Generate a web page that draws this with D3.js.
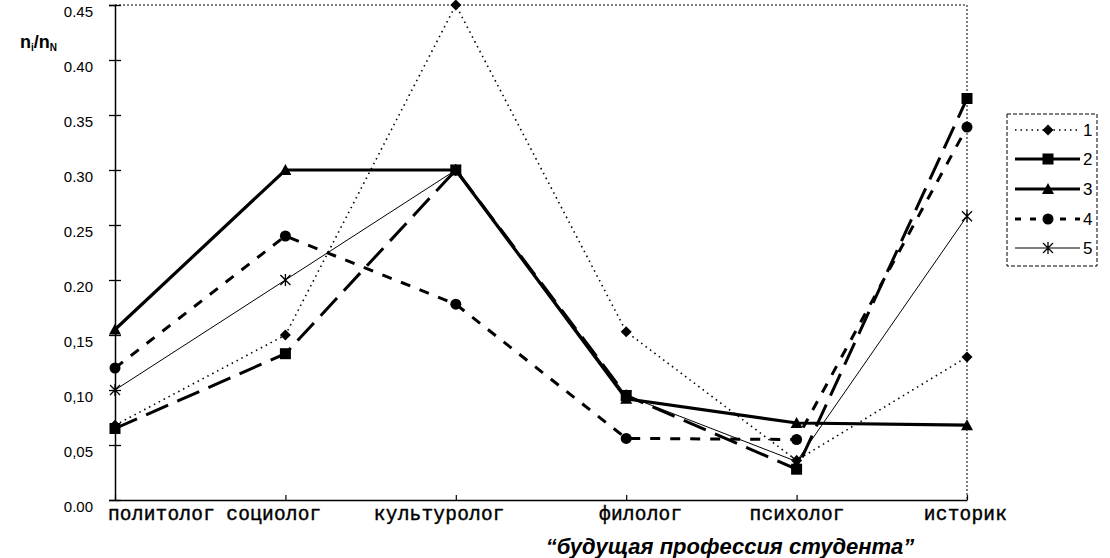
<!DOCTYPE html>
<html><head><meta charset="utf-8">
<script src="https://cdn.jsdelivr.net/npm/d3@7"></script>
<style>body{margin:0;background:#fff}svg{display:block}</style>
</head><body><svg id="c" width="1110" height="558"></svg>
<script>
const categories = ["политолог","социолог","культуролог","филолог","психолог","историк"];
const series1 = [0.068, 0.150, 0.450, 0.153, 0.036, 0.130];
const series2 = [0.065, 0.133, 0.300, 0.095, 0.028, 0.365];
const series3 = [0.155, 0.300, 0.300, 0.092, 0.070, 0.068];
const series4 = [0.120, 0.240, 0.178, 0.056, 0.055, 0.339];
const series5 = [0.100, 0.200, 0.300, 0.095, 0.035, 0.258];
const seriesNames = ["1","2","3","4","5"];
const yTicks = [0, 0.05, 0.10, 0.15, 0.20, 0.25, 0.30, 0.35, 0.40, 0.45];
const yTickLabels = ["0.00","0,05","0,10","0,15","0.20","0.25","0.30","0.35","0.40","0.45"];
const xTitle = "“будущая професcия студента”";

const svg = d3.select("#c");
const x = d3.scalePoint().domain(categories).range([115, 967]);
const y = d3.scaleLinear().domain([0, 0.45]).range([500, 5]);

const styles = [
  {w:1.6, dash:"1.5,4", marker:"diamond"},
  {w:3, dash:"24,10", marker:"square"},
  {w:3.2, dash:null, marker:"triangle"},
  {w:3, dash:"10,10", marker:"circle"},
  {w:1, dash:null, marker:"star"}
];
const allSeries = [series1, series2, series3, series4, series5];
const labelShift = [46, -12, -17, 14, 0, -2];

// frame: dotted top and right
svg.append("line").attr("x1",115).attr("x2",967).attr("y1",y(0.45)).attr("y2",y(0.45))
  .attr("stroke","#000").attr("stroke-width",1).attr("stroke-dasharray","2,2");
svg.append("line").attr("x1",967).attr("x2",967).attr("y1",y(0.45)).attr("y2",y(0))
  .attr("stroke","#000").attr("stroke-width",1).attr("stroke-dasharray","2,2");

// y axis
const yAxis = d3.axisLeft(y).tickValues(yTicks).tickSize(6).tickFormat((d,i)=>yTickLabels[i]).tickPadding(16);
const gy = svg.append("g").attr("transform","translate(115,0)").call(yAxis);
gy.select(".domain").attr("stroke-width",1.5);
gy.selectAll(".tick line").attr("x1",-6).attr("x2",6).attr("stroke-width",1.3);
gy.selectAll("text").attr("font-family","Liberation Sans, Arial, sans-serif").attr("font-size",15)
  .attr("fill","#000").attr("dy","0.75em");

// x axis
const xAxis = d3.axisBottom(x).tickSize(0).tickPadding(10);
const gx = svg.append("g").attr("transform","translate(0,500)").call(xAxis);
gx.select(".domain").attr("stroke-width",1.6);
gx.selectAll(".tick").append("line").attr("y1",-5).attr("y2",0).attr("stroke","#000").attr("stroke-width",1.2);
gx.selectAll("text").attr("font-family","Liberation Mono, Courier New, monospace").attr("font-size",19.5)
  .attr("fill","#000").attr("dy","0.5em").attr("font-weight","normal").attr("letter-spacing","0.2px")
  .attr("stroke","#000").attr("stroke-width",0.4)
  .attr("text-anchor","middle").attr("dx",(d,i)=>labelShift[i]);

// lines
const line = d3.line().x((d,i)=>x(categories[i])).y(d=>y(d));
allSeries.forEach((s,k)=>{
  const st = styles[k];
  svg.append("path").datum(s).attr("d",line).attr("fill","none").attr("stroke","#000")
    .attr("stroke-width",st.w).attr("stroke-dasharray",st.dash);
});

function drawMarker(g, type, cx, cy){
  if(type==="diamond") g.append("path").attr("d",`M${cx},${cy-5.5}L${cx+5.5},${cy}L${cx},${cy+5.5}L${cx-5.5},${cy}Z`).attr("fill","#000");
  if(type==="square") g.append("rect").attr("x",cx-5.5).attr("y",cy-5.5).attr("width",11).attr("height",11).attr("fill","#000");
  if(type==="triangle") g.append("path").attr("d",`M${cx},${cy-6}L${cx+6},${cy+5}L${cx-6},${cy+5}Z`).attr("fill","#000");
  if(type==="circle") g.append("circle").attr("cx",cx).attr("cy",cy).attr("r",5.5).attr("fill","#000");
  if(type==="star") g.append("path").attr("d",`M${cx-5},${cy-5}L${cx+5},${cy+5}M${cx-5},${cy+5}L${cx+5},${cy-5}M${cx},${cy-6}L${cx},${cy+6}`).attr("stroke","#000").attr("stroke-width",1.3);
}
allSeries.forEach((s,k)=>{
  const g = svg.append("g");
  s.forEach((v,i)=>drawMarker(g, styles[k].marker, x(categories[i]), y(v)));
});

// legend
const lg = svg.append("g");
lg.append("rect").attr("x",1007).attr("y",114).attr("width",90).attr("height",152)
  .attr("fill","none").attr("stroke","#000").attr("stroke-width",1).attr("stroke-dasharray","4,2");
const ly = [130,159,189,219,248];
seriesNames.forEach((n,k)=>{
  const st = styles[k];
  lg.append("line").attr("x1",1015).attr("x2",1080).attr("y1",ly[k]).attr("y2",ly[k]).attr("stroke","#000")
    .attr("stroke-width",st.w).attr("stroke-dasharray", k===1 ? "30,6" : (k===3 ? "6,9" : st.dash));
  drawMarker(lg, st.marker, 1048, ly[k]);
  lg.append("text").attr("x",1083).attr("y",ly[k]+6).text(n)
    .attr("font-family","Liberation Sans, Arial, sans-serif").attr("font-size",17).attr("fill","#000");
});

// y label
const yl = svg.append("text").attr("x",20).attr("y",48).attr("font-family","Liberation Sans, Arial, sans-serif")
  .attr("font-weight","bold").attr("font-size",18).attr("fill","#000");
yl.append("tspan").text("n");
yl.append("tspan").text("i").attr("font-size",10).attr("dy",3);
yl.append("tspan").text("/n").attr("dy",-3);
yl.append("tspan").text("N").attr("font-size",10).attr("dy",3);

// x title
svg.append("text").attr("x",730).attr("y",554).attr("text-anchor","middle")
  .attr("font-family","Liberation Sans, Arial, sans-serif").attr("font-weight","bold").attr("font-style","italic")
  .attr("font-size",22).attr("fill","#000").text(xTitle);
</script></body></html>
